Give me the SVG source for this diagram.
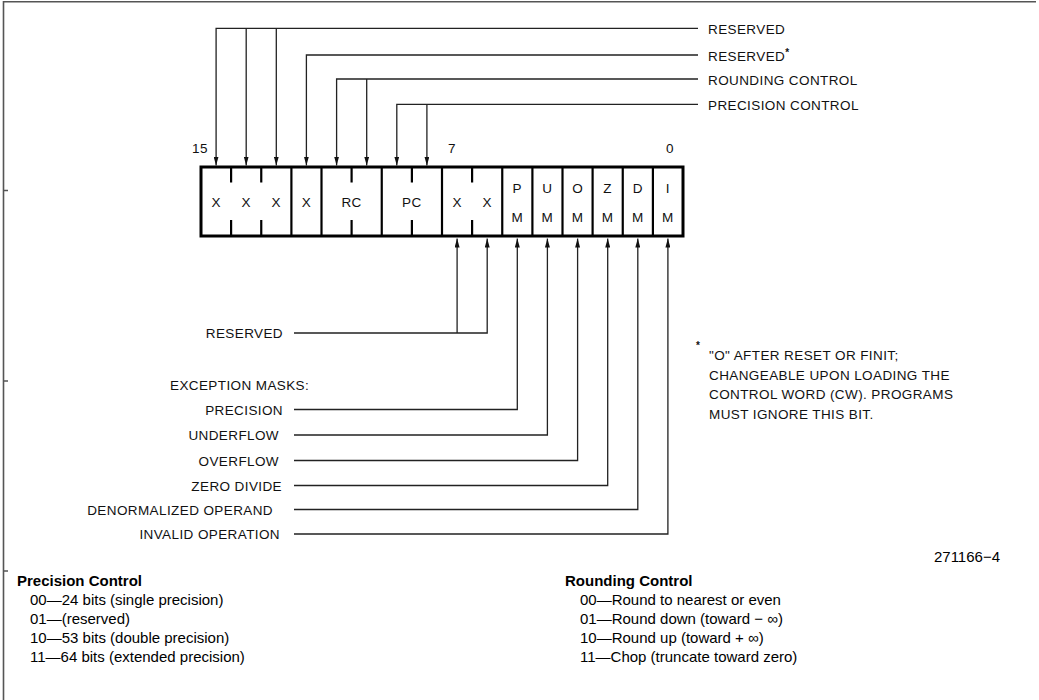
<svg xmlns="http://www.w3.org/2000/svg" width="1039" height="700" viewBox="0 0 1039 700">
<style>
  .frame { stroke: #555; stroke-width: 1.6; fill: none; }
  .lbl { font-family: "Liberation Sans", Arial, sans-serif; font-size: 13.5px; letter-spacing: 0.4px; fill: #111; }
  .end { text-anchor: end; }
  .mid { text-anchor: middle; }
  .box { fill: #fff; stroke: #000; stroke-width: 3; }
  .div { stroke: #000; stroke-width: 2.2; }
  .conn { fill: none; stroke: #222; stroke-width: 1.3; }
  .txt { font-family: "Liberation Sans", Arial, Helvetica, sans-serif; font-size: 15px; fill: #000; }
  .hdr { font-weight: bold; }
</style>
<defs>
  <marker id="ah" viewBox="0 0 9 5" refX="9" refY="2.5" markerWidth="9" markerHeight="5" orient="auto" markerUnits="userSpaceOnUse">
    <path d="M0,0 L9,2.5 L0,5 z" fill="#111"/>
  </marker>
</defs>
<rect width="1039" height="700" fill="#fff"/>

<g id="frame">
  <path class="frame" d="M3.5,700 V1.8 H1036"/>
  <path class="frame" d="M3.5,190.5 H8 M3.5,381 H8 M3.5,571 H8" stroke-width="1"/>
</g>

<g id="register">
  <rect class="box" x="201" y="167" width="482" height="69"/>
  <g class="div">
    <line x1="291.4" y1="167" x2="291.4" y2="236"/>
    <line x1="321.5" y1="167" x2="321.5" y2="236"/>
    <line x1="381.75" y1="167" x2="381.75" y2="236"/>
    <line x1="442" y1="167" x2="442" y2="236"/>
    <line x1="502.25" y1="167" x2="502.25" y2="236"/>
    <line x1="532.4" y1="167" x2="532.4" y2="236"/>
    <line x1="562.5" y1="167" x2="562.5" y2="236"/>
    <line x1="592.6" y1="167" x2="592.6" y2="236"/>
    <line x1="622.75" y1="167" x2="622.75" y2="236"/>
    <line x1="652.9" y1="167" x2="652.9" y2="236"/>
    <path d="M231.1,167 V182.5 M231.1,220 V236 M261.25,167 V182.5 M261.25,220 V236 M351.6,167 V182.5 M351.6,220 V236 M411.9,167 V182.5 M411.9,220 V236 M472.1,167 V182.5 M472.1,220 V236" fill="none"/>
  </g>
  <g class="lbl mid">
    <text x="216.1" y="206.5">X</text>
    <text x="246.2" y="206.5">X</text>
    <text x="276.3" y="206.5">X</text>
    <text x="306.4" y="206.5">X</text>
    <text x="351.6" y="206.5">RC</text>
    <text x="411.9" y="206.5">PC</text>
    <text x="457.1" y="206.5">X</text>
    <text x="487.2" y="206.5">X</text>
    <text x="517.3" y="193">P</text><text x="517.3" y="221.5">M</text>
    <text x="547.4" y="193">U</text><text x="547.4" y="221.5">M</text>
    <text x="577.6" y="193">O</text><text x="577.6" y="221.5">M</text>
    <text x="607.7" y="193">Z</text><text x="607.7" y="221.5">M</text>
    <text x="637.8" y="193">D</text><text x="637.8" y="221.5">M</text>
    <text x="667.9" y="193">I</text><text x="667.9" y="221.5">M</text>
  </g>
  <g class="lbl">
    <text x="192" y="153">15</text>
    <text x="448" y="153">7</text>
    <text x="666" y="153">0</text>
  </g>
</g>

<g id="connectors">
  <path class="conn" marker-end="url(#ah)" d="M698,28.3 H216.1 V165.5"/>
  <path class="conn" marker-end="url(#ah)" d="M246.2,28.3 V165.5"/>
  <path class="conn" marker-end="url(#ah)" d="M276.3,28.3 V165.5"/>
  <path class="conn" marker-end="url(#ah)" d="M698,55 H306.4 V165.5"/>
  <path class="conn" marker-end="url(#ah)" d="M698,79 H336.6 V165.5"/>
  <path class="conn" marker-end="url(#ah)" d="M366.7,79 V165.5"/>
  <path class="conn" marker-end="url(#ah)" d="M698,104.3 H396.8 V165.5"/>
  <path class="conn" marker-end="url(#ah)" d="M426.9,104.3 V165.5"/>

  <path class="conn" marker-end="url(#ah)" d="M294,333 H487.2 V238.5"/>
  <path class="conn" marker-end="url(#ah)" d="M457.1,333 V238.5"/>
  <path class="conn" marker-end="url(#ah)" d="M294,409.5 H517.3 V238.5"/>
  <path class="conn" marker-end="url(#ah)" d="M294,435 H547.4 V238.5"/>
  <path class="conn" marker-end="url(#ah)" d="M294,460.5 H577.6 V238.5"/>
  <path class="conn" marker-end="url(#ah)" d="M294,485.5 H607.7 V238.5"/>
  <path class="conn" marker-end="url(#ah)" d="M294,509.5 H637.8 V238.5"/>
  <path class="conn" marker-end="url(#ah)" d="M294,534 H667.9 V238.5"/>
</g>

<g id="label-reserved-top"><text class="lbl" x="708" y="34">RESERVED</text></g>
<g id="label-reserved-star"><text class="lbl" x="708" y="61">RESERVED<tspan dy="-5" font-size="10" font-weight="bold">*</tspan></text></g>
<g id="label-rounding"><text class="lbl" x="708" y="85">ROUNDING CONTROL</text></g>
<g id="label-precision"><text class="lbl" x="708" y="110">PRECISION CONTROL</text></g>

<g id="label-reserved-low"><text class="lbl end" x="283" y="338">RESERVED</text></g>
<g id="label-exception"><text class="lbl" x="170" y="390">EXCEPTION MASKS:</text></g>
<g id="label-pm"><text class="lbl end" x="283" y="414.5">PRECISION</text></g>
<g id="label-um"><text class="lbl end" x="279" y="440">UNDERFLOW</text></g>
<g id="label-om"><text class="lbl end" x="279" y="465.5">OVERFLOW</text></g>
<g id="label-zm"><text class="lbl end" x="282" y="490.5">ZERO DIVIDE</text></g>
<g id="label-dm"><text class="lbl end" x="273" y="514.5">DENORMALIZED OPERAND</text></g>
<g id="label-im"><text class="lbl end" x="280" y="539">INVALID OPERATION</text></g>

<g id="footnote" class="lbl">
  <text x="696" y="349" font-size="10" font-weight="bold">*</text>
  <text x="709" y="360">"O" AFTER RESET OR FINIT;</text>
  <text x="709" y="379.5">CHANGEABLE UPON LOADING THE</text>
  <text x="709" y="399">CONTROL WORD (CW). PROGRAMS</text>
  <text x="709" y="418.5">MUST IGNORE THIS BIT.</text>
</g>

<g id="figure-number"><text class="txt" x="1000" y="562" text-anchor="end">271166−4</text></g>

<g id="precision-table" class="txt">
  <text class="hdr" x="17" y="586">Precision Control</text>
  <text x="30" y="605">00—24 bits (single precision)</text>
  <text x="30" y="624">01—(reserved)</text>
  <text x="30" y="643">10—53 bits (double precision)</text>
  <text x="30" y="662">11—64 bits (extended precision)</text>
</g>

<g id="rounding-table" class="txt">
  <text class="hdr" x="565" y="586">Rounding Control</text>
  <text x="580" y="605">00—Round to nearest or even</text>
  <text x="580" y="624">01—Round down (toward − ∞)</text>
  <text x="580" y="643">10—Round up (toward + ∞)</text>
  <text x="580" y="662">11—Chop (truncate toward zero)</text>
</g>
</svg>
